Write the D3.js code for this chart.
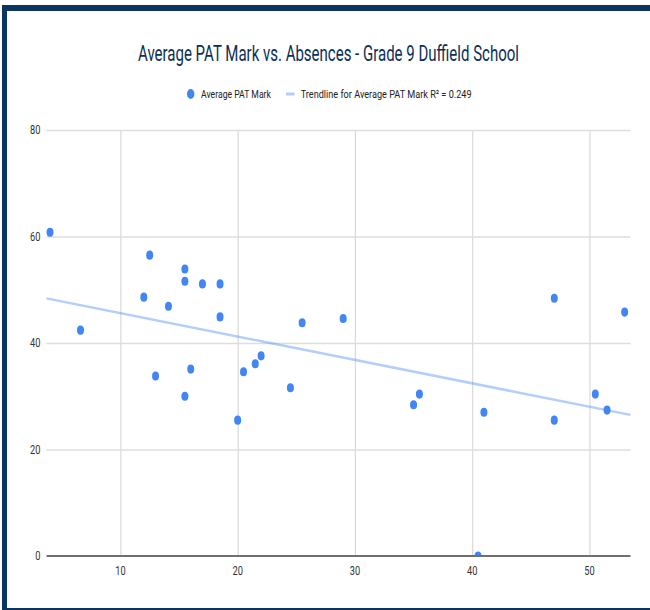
<!DOCTYPE html>
<html>
<head>
<meta charset="utf-8">
<script src="https://cdn.jsdelivr.net/npm/d3@7"></script>
<style>
  html, body { margin: 0; padding: 0; background: #ffffff; }
  svg { display: block; font-family: Roboto, "Liberation Sans", Arial, sans-serif; }
</style>
</head>
<body>
<svg id="chart" width="650" height="610"></svg>
<script>
// Absences per student (x) and their average PAT mark (y)
const absences = [4.0, 6.6, 12.5, 12.0, 13.0, 14.1, 15.5, 15.5, 15.5, 16.0, 17.0, 18.5, 18.5, 20.0, 20.5,
                  21.5, 22.0, 24.5, 25.5, 29.0, 35.0, 35.5, 40.5, 41.0, 47.0, 47.0, 50.5, 51.5, 53.0];
const patMarks = [60.8, 42.4, 56.5, 48.6, 33.8, 46.9, 53.9, 51.6, 30.0, 35.1, 51.1, 51.1, 44.9, 25.5, 34.6,
                  36.1, 37.6, 31.6, 43.8, 44.6, 28.4, 30.4, 0.0, 27.0, 48.4, 25.5, 30.4, 27.4, 45.8];
const xTicks = [10, 20, 30, 40, 50];
const yTicks = [0, 20, 40, 60, 80];
const xDomain = [3.7, 53.5];
const yDomain = [0, 80];
const titleText = "Average PAT Mark vs. Absences - Grade 9 Duffield School";
const seriesLabel = "Average PAT Mark";
const trendLabel = "Trendline for Average PAT Mark R\u00B2 = 0.249";

const svg = d3.select("#chart");
const blue = "#4285f4";
const navy = "#0b355f";
const FONT = "Roboto, 'Liberation Sans', Arial, sans-serif";

// Plot frame
const plot = { left: 46.5, right: 630.5, top: 130, bottom: 556 };
const x = d3.scaleLinear().domain(xDomain).range([plot.left, plot.right]);
const y = d3.scaleLinear().domain(yDomain).range([plot.bottom, plot.top]);

// Place a condensed text: anchor point (ax, ay), horizontal squeeze to width w or by factor k
function condensed(parent, str, ax, ay, size, fill, opts) {
  const g = parent.append("g");
  const t = g.append("text")
    .attr("font-family", FONT).attr("font-size", size).attr("fill", fill)
    .attr("text-anchor", opts.anchor || "start")
    .attr("dy", opts.dy || null)
    .text(str);
  const w = t.node().getComputedTextLength();
  const k = opts.width ? opts.width / w : opts.k;
  g.attr("transform", `translate(${ax},${ay}) scale(${k},1)`);
  return t;
}

// Page border
svg.append("rect").attr("x", 2).attr("y", 5).attr("width", 648).attr("height", 6).attr("fill", navy);
svg.append("rect").attr("x", 2).attr("y", 5).attr("width", 5).attr("height", 605).attr("fill", navy);
svg.append("rect").attr("x", 2).attr("y", 608).attr("width", 648).attr("height", 2).attr("fill", navy);

// Title
condensed(svg, titleText, 138, 61, 22, "#0c2f56", { width: 381 });

// Legend
const lg = svg.append("g");
lg.append("ellipse").attr("cx", 190.7).attr("cy", 94).attr("rx", 3.7).attr("ry", 5).attr("fill", blue);
condensed(lg, seriesLabel, 201, 98.3, 11.5, "#222", { width: 70 });
lg.append("line").attr("x1", 286).attr("x2", 294.5).attr("y1", 94).attr("y2", 94)
  .attr("stroke", blue).attr("stroke-opacity", 0.4).attr("stroke-width", 3);
condensed(lg, trendLabel, 300.7, 98.3, 11.5, "#222", { width: 171 });

// Vertical gridlines
svg.append("g")
  .attr("transform", `translate(0,${plot.bottom})`)
  .call(d3.axisBottom(x).tickValues(xTicks).tickSize(-(plot.bottom - plot.top)).tickFormat(""))
  .call(g => g.select(".domain").remove())
  .call(g => g.selectAll(".tick line").attr("stroke", "#d9d9d9").attr("stroke-width", 1.2));

// Horizontal gridlines
svg.append("g")
  .attr("transform", `translate(${plot.left},0)`)
  .call(d3.axisLeft(y).tickValues(yTicks.filter(v => v !== 0)).tickSize(-(plot.right - plot.left)).tickFormat(""))
  .call(g => g.select(".domain").remove())
  .call(g => g.selectAll(".tick line").attr("stroke", "#dedede").attr("stroke-width", 1.6));

// Tick labels
const fmt = d3.format("d");
const yLab = svg.append("g");
yTicks.forEach(v => condensed(yLab, fmt(v), plot.left - 6, y(v), 12.5, "#333", { k: 0.74, anchor: "end", dy: "0.35em" }));
const xLab = svg.append("g");
xTicks.forEach(v => condensed(xLab, fmt(v), x(v), 574.5, 12.5, "#333", { k: 0.74, anchor: "middle" }));

// Baseline at zero
svg.append("line")
  .attr("x1", plot.left).attr("x2", plot.right)
  .attr("y1", y(0)).attr("y2", y(0))
  .attr("stroke", "#6f6f6f").attr("stroke-width", 2);

// Least-squares trendline
const mx = d3.mean(absences), my = d3.mean(patMarks);
let sxy = 0, sxx = 0;
absences.forEach((xv, i) => { sxy += (xv - mx) * (patMarks[i] - my); sxx += (xv - mx) ** 2; });
const slope = sxy / sxx, intercept = my - slope * mx;
svg.append("line")
  .attr("x1", x(xDomain[0])).attr("y1", y(intercept + slope * xDomain[0]))
  .attr("x2", x(xDomain[1])).attr("y2", y(intercept + slope * xDomain[1]))
  .attr("stroke", blue).attr("stroke-opacity", 0.4).attr("stroke-width", 2.5);

// Points, clipped to the plot area
svg.append("clipPath").attr("id", "plotClip")
  .append("rect").attr("x", plot.left - 10).attr("y", plot.top - 10)
  .attr("width", plot.right - plot.left + 20).attr("height", plot.bottom - plot.top + 9);

svg.append("g").attr("clip-path", "url(#plotClip)")
  .selectAll("ellipse")
  .data(absences.map((a, i) => ({ a, m: patMarks[i] })))
  .join("ellipse")
  .attr("cx", d => x(d.a))
  .attr("cy", d => y(d.m))
  .attr("rx", 3.5).attr("ry", 4.6)
  .attr("fill", blue);
</script>
</body>
</html>
